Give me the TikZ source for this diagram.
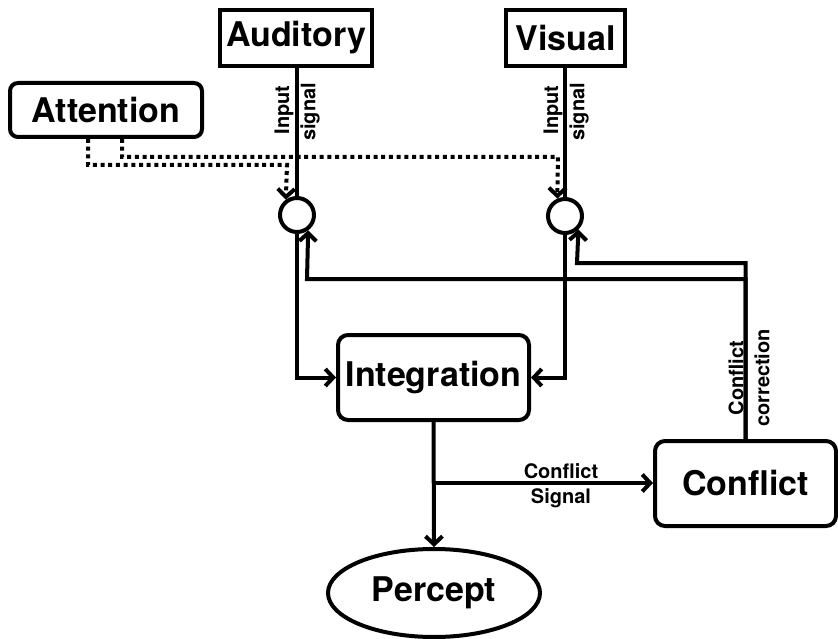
\documentclass[tikz,border=0pt]{standalone}
\usepackage{fontspec}
\setmainfont{TeX Gyre Heros}
\usetikzlibrary{arrows.meta,shapes.geometric,calc}

\tikzset{
  every node/.style={inner sep=0pt, font=\bfseries},
  bigtxt/.style={font=\fontsize{34}{38}\selectfont\bfseries},
  smalltxt/.style={font=\fontsize{20}{23}\selectfont\bfseries},
  srcbox/.style={draw, line width=4pt, rectangle, bigtxt},
  procbox/.style={draw, line width=4pt, rectangle, rounded corners=10pt, bigtxt},
  junction/.style={draw, line width=4pt, circle, minimum size=34pt, fill=white},
  wire/.style={line width=4pt},
  arr/.style={wire, -{Straight Barb[length=8pt,width=17pt,line width=4pt]}},
  dotline/.style={line width=4pt, dash pattern=on 4pt off 3.7pt},
  dotarr/.style={dotline, -{Straight Barb[length=8pt,width=17pt,line width=4pt]}},
}

\begin{document}
\begin{tikzpicture}[x=1pt,y=1pt]
  \useasboundingbox (0,0) rectangle (838,-639);

  % sources and modules
  \node[srcbox, minimum width=152pt, minimum height=56pt] (aud) at (296,-38) {Auditory};
  \node[srcbox, minimum width=119pt, minimum height=56pt] (vis) at (565.5,-38) {Visual};
  \node[procbox, rounded corners=8pt, minimum width=192pt, minimum height=54pt] (att) at (106,-110) {Attention};
  \node[procbox, minimum width=191pt, minimum height=85pt] (integ) at (433.5,-377.5) {Integration};
  \node[procbox, minimum width=181pt, minimum height=85pt] (conf) at (745.5,-483.5) {Conflict};
  \node[draw, line width=4pt, ellipse, minimum width=212pt, minimum height=88pt, bigtxt] (perc) at (434,-593) {Percept};

  % gain junctions
  \node[junction] (cA) at (297,-215) {};
  \node[junction] (cV) at (565,-216) {};

  % routing points
  \coordinate (dA) at (287,-165);
  \coordinate (dV) at (558,-157);
  \coordinate (fbA) at (307,-279);
  \coordinate (fbV) at (577,-263);
  \coordinate (split) at (433,-483);

  % input signals
  \draw[wire] (aud.south -| cA) -- (cA.north);
  \draw[wire] (vis.south -| cV) -- (cV.north);
  \node[smalltxt, rotate=90] at (284,-110) {Input};
  \node[smalltxt, rotate=90] at (310,-112) {signal};
  \node[smalltxt, rotate=90] at (553,-110) {Input};
  \node[smalltxt, rotate=90] at (579,-112) {signal};

  % attention modulation
  \draw[dotarr] ([xshift=-18pt]att.south) |- (dA) -- (cA.126);
  \draw[dotarr] ([xshift=16pt]att.south) |- (dV) -- (cV.114);

  % feedback from conflict
  \draw[arr] (conf.north) |- (fbA) -- (cA.-54);
  \draw[arr] (conf.north) |- (fbV) -- (cV.-45);
  \node[smalltxt, rotate=90] at (736,-378) {Conflict};
  \node[smalltxt, rotate=90] at (762,-378) {correction};

  % into integration
  \draw[arr] (cA.south) |- (integ.west);
  \draw[arr] (cV.south) |- (integ.east);

  % output and conflict signal
  \draw[arr] (integ.south) -- (perc.north);
  \draw[arr] (split) -- (conf.west |- split);
  \node[smalltxt] at (561,-471) {Conflict};
  \node[smalltxt] at (561,-498) {Signal};
\end{tikzpicture}
\end{document}
